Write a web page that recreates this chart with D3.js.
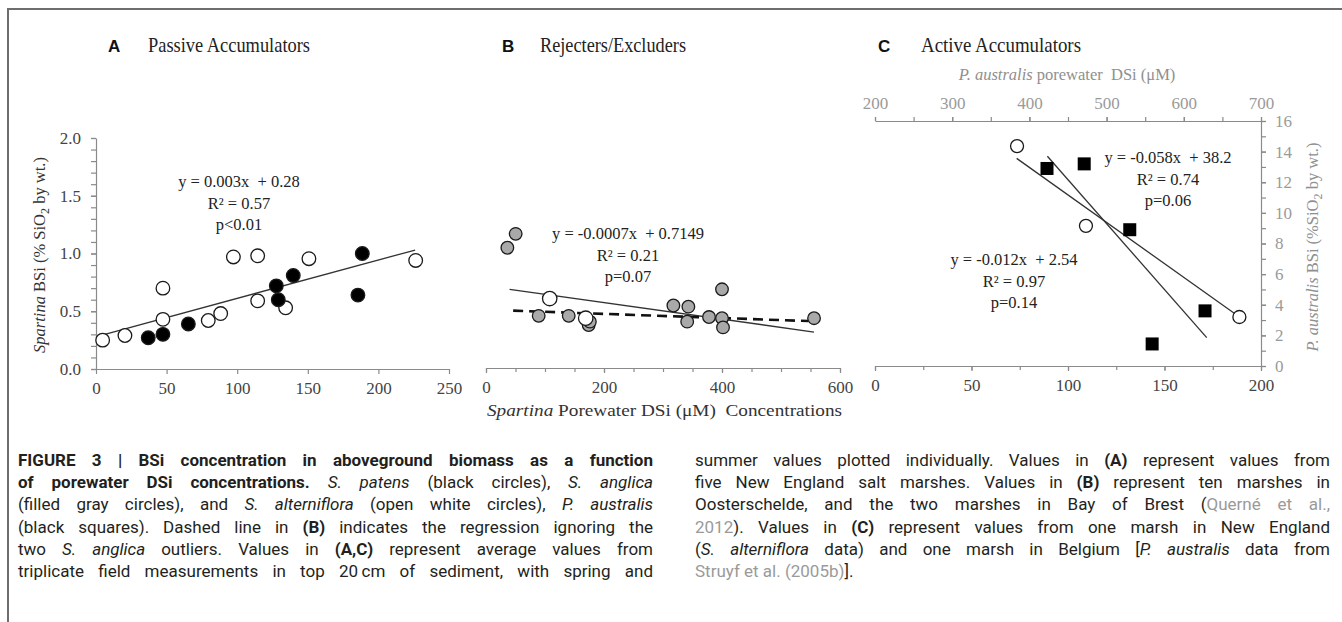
<!DOCTYPE html>
<html>
<head>
<meta charset="utf-8">
<script src="https://cdn.jsdelivr.net/npm/d3@7"></script>
<style>
  body { margin: 0; background: #fff; width: 1342px; height: 622px; overflow: hidden; position: relative; }
  svg { position: absolute; left: 0; top: 0; }
  .col { position: absolute; top: 449px; width: 635px; font-family: Roboto, "Liberation Sans", sans-serif; font-size: 17px; color: #231f20; }
  .col div { height: 22.2px; line-height: 22.2px; text-align: justify; text-align-last: justify; }
  .col div.last { text-align-last: left; }
  .ref { color: #9a9a9a; }
</style>
</head>
<body>
<div class="col" id="capLeft" style="left:18px"></div>
<div class="col" id="capRight" style="left:695px"></div>
<script>
// ---- data ----
// Panel A: S. alterniflora (open) and S. patens (black)
const aOpen = [[4.7, 0.25], [20.5, 0.29], [47.4, 0.70], [47.4, 0.43], [79.5, 0.42], [88.3, 0.48],
  [97.3, 0.97], [114.5, 0.98], [114.5, 0.59], [134.3, 0.53], [150.8, 0.955], [226.4, 0.94]];
const aBlack = [[37, 0.27], [47.4, 0.30], [65.4, 0.39], [127.7, 0.72], [129.1, 0.60], [139.7, 0.81],
  [188.6, 1.00], [185.5, 0.64]];
const aFit = [[3, 0.29], [226, 1.03]];

// Panel B: S. anglica (gray) and S. alterniflora (open)
const bGray = [[36.2, 1.05], [50.3, 1.17], [89.3, 0.46], [140.2, 0.46], [174, 0.38], [176, 0.41],
  [317.6, 0.55], [343, 0.54], [341, 0.41], [378, 0.45], [400, 0.69], [400, 0.44], [401.7, 0.36], [556, 0.44]];
const bOpen = [[108, 0.61], [169, 0.44]];
const bFit = [[40, 0.69], [556, 0.32]];
const bFitDashed = [[46, 0.505], [546, 0.415]];

// Panel C: S. alterniflora (open, bottom axis) and P. australis (squares, top/right axes)
const cOpen = [[73.6, 1.78], [109.3, 1.08], [188.8, 0.28]];
const cOpenFit = [[73.4, 1.672], [187.4, 0.297]];
const cSquares = [[422.8, 12.9], [471, 13.2], [530, 8.9], [559, 1.44], [627.5, 3.6]];
const cSquareFit = [[423.3, 13.7], [629.7, 1.85]];

const aTicksY = [0, 0.5, 1, 1.5, 2];
const aTicksX = [0, 50, 100, 150, 200, 250];
const bTicksX = [0, 200, 400, 600];
const cTicksBottom = [0, 50, 100, 150, 200];
const cTicksTop = [200, 300, 400, 500, 600, 700];
const cTicksRight = [0, 2, 4, 6, 8, 10, 12, 14, 16];

const aEq = ['y = 0.003x  + 0.28', 'R² = 0.57', 'p<0.01'];
const bEq = ['y = -0.0007x  + 0.7149', 'R² = 0.21', 'p=0.07'];
const cEqSquares = ['y = -0.058x  + 38.2', 'R² = 0.74', 'p=0.06'];
const cEqOpen = ['y = -0.012x  + 2.54', 'R² = 0.97', 'p=0.14'];

const SERIF = '"Liberation Serif", "Times New Roman", serif';
const AXIS = '#8a8a8a';

const svg = d3.select('body').append('svg').attr('width', 1342).attr('height', 622);

// frame
svg.append('path').attr('d', 'M8,622V9H1342').attr('fill', 'none').attr('stroke', '#6e6e6e').attr('stroke-width', 2);

// ---- scales ----
const xA = d3.scaleLinear().domain([0, 250]).range([96, 449]);
const yA = d3.scaleLinear().domain([0, 2]).range([369, 138]);
const xB = d3.scaleLinear().domain([0, 600]).range([486, 840]);
const xC = d3.scaleLinear().domain([0, 200]).range([875, 1261]);
const xCTop = d3.scaleLinear().domain([200, 700]).range([875, 1261]);
const yCRight = d3.scaleLinear().domain([0, 16]).range([366, 121]);
const yCHidden = d3.scaleLinear().domain([-0.15, 2.0]).range([366, 121]);

const styleAxis = (g, labelColor) => {
  g.attr('font-family', null).attr('font-size', null);
  g.selectAll('path, line').attr('stroke', AXIS).attr('stroke-width', 1.2);
  g.selectAll('text')
    .style('font-family', SERIF)
    .style('font-size', '17px')
    .style('fill', labelColor);
};

const drawAxis = (axis, transform, labelColor, minor) => {
  if (minor) {
    const m = svg.append('g').attr('transform', transform).call(minor);
    styleAxis(m, labelColor);
    m.select('.domain').remove();
  }
  const g = svg.append('g').attr('transform', transform).call(axis);
  styleAxis(g, labelColor);
  return g;
};

// Panel A axes
drawAxis(d3.axisLeft(yA).tickValues(aTicksY).tickFormat(d3.format('.1f')).tickSize(5).tickSizeOuter(0).tickPadding(10),
  'translate(96,0)', '#444',
  d3.axisLeft(yA).tickValues(d3.range(0, 2.001, 0.1)).tickFormat('').tickSize(5));
drawAxis(d3.axisBottom(xA).tickValues(aTicksX).tickSize(5).tickSizeOuter(0).tickPadding(8),
  'translate(0,369)', '#444');

// Panel B axis
drawAxis(d3.axisBottom(xB).tickValues(bTicksX).tickSize(5).tickSizeOuter(0).tickPadding(8),
  'translate(0,368)', '#444',
  d3.axisBottom(xB).tickValues(d3.range(0, 601, 50)).tickFormat('').tickSize(4));

// Panel C axes
drawAxis(d3.axisBottom(xC).tickValues(cTicksBottom).tickSize(5).tickSizeOuter(0).tickPadding(8),
  'translate(0,366)', '#444',
  d3.axisBottom(xC).tickValues(d3.range(0, 201, 25)).tickFormat('').tickSize(4));
drawAxis(d3.axisTop(xCTop).tickValues(cTicksTop).tickSize(4).tickSizeOuter(0).tickPadding(8),
  'translate(0,121)', '#9a9a9a',
  d3.axisTop(xCTop).tickValues(d3.range(200, 701, 50)).tickFormat('').tickSize(4));
drawAxis(d3.axisRight(yCRight).tickValues(cTicksRight).tickSize(5).tickSizeOuter(0).tickPadding(9),
  'translate(1261,0)', '#9a9a9a',
  d3.axisRight(yCRight).tickValues(d3.range(0, 17, 1)).tickFormat('').tickSize(5));

// ---- regression lines ----
const drawLine = (pts, x, y, dashed) => svg.append('path')
  .datum(pts)
  .attr('d', d3.line().x(d => x(d[0])).y(d => y(d[1])))
  .attr('fill', 'none')
  .attr('stroke', dashed ? '#111' : '#333')
  .attr('stroke-width', dashed ? 2.6 : 1.3)
  .attr('stroke-dasharray', dashed ? '10,6' : null);

drawLine(aFit, xA, yA);
drawLine(bFit, xB, yA);
drawLine(bFitDashed, xB, yA, true);
drawLine(cOpenFit, xC, yCHidden);
drawLine(cSquareFit, xCTop, yCRight);

// ---- markers ----
const drawCircles = (pts, x, y, fill, r) => svg.append('g')
  .selectAll('circle')
  .data(pts)
  .join('circle')
  .attr('cx', d => x(d[0]))
  .attr('cy', d => y(d[1]))
  .attr('r', r)
  .attr('fill', fill)
  .attr('stroke', '#1a1a1a')
  .attr('stroke-width', 1.3);

drawCircles(aOpen, xA, yA, '#fff', 6.8);
drawCircles(aBlack, xA, yA, '#000', 6.8);
drawCircles(bGray, xB, yA, '#a9a9a9', 6.3);
drawCircles(bOpen, xB, yA, '#fff', 7.2);
drawCircles(cOpen, xC, yCHidden, '#fff', 6.5);

svg.append('g')
  .selectAll('rect')
  .data(cSquares)
  .join('rect')
  .attr('x', d => xCTop(d[0]) - 6.5)
  .attr('y', d => yCRight(d[1]) - 6.5)
  .attr('width', 13)
  .attr('height', 13)
  .attr('fill', '#000');

// ---- equation labels ----
const drawEq = (lines, cx, cy) => svg.append('g')
  .selectAll('text')
  .data(lines)
  .join('text')
  .attr('x', cx)
  .attr('y', (_d, i) => cy + i * 21.5)
  .attr('text-anchor', 'middle')
  .attr('font-family', SERIF)
  .attr('font-size', 16.5)
  .attr('fill', '#222')
  .style('white-space', 'pre')
  .text(d => d);

drawEq(aEq, 239, 187);
drawEq(bEq, 628, 239);
drawEq(cEqSquares, 1168, 163);
drawEq(cEqOpen, 1014, 265);

// ---- panel titles ----
const titles = [['A', 'Passive Accumulators', 108, 148, 162], ['B', 'Rejecters/Excluders', 502, 540, 146], ['C', 'Active Accumulators', 878, 921, 160]];
titles.forEach(([letter, name, lx, tx, w]) => {
  svg.append('text').attr('x', lx).attr('y', 52).attr('font-family', '"Liberation Sans", Arial, sans-serif')
    .attr('font-weight', 'bold').attr('font-size', 17).attr('fill', '#111').text(letter);
  svg.append('text').attr('x', tx).attr('y', 52).attr('font-family', SERIF).attr('font-size', 22)
    .attr('fill', '#222').attr('textLength', w).attr('lengthAdjust', 'spacingAndGlyphs').text(name);
});

// ---- axis titles ----
const xTitle = svg.append('text').attr('x', 487).attr('y', 416).attr('font-family', SERIF).attr('font-size', 17)
  .attr('fill', '#333').attr('textLength', 355).attr('lengthAdjust', 'spacingAndGlyphs').style('white-space', 'pre');
xTitle.append('tspan').attr('font-style', 'italic').text('Spartina');
xTitle.append('tspan').text(' Porewater DSi (μM)  Concentrations');

const yTitle = svg.append('text').attr('transform', 'translate(45,255) rotate(-90)').attr('text-anchor', 'middle')
  .attr('font-family', SERIF).attr('font-size', 16.5).attr('fill', '#333');
yTitle.append('tspan').attr('font-style', 'italic').text('Spartina');
yTitle.append('tspan').text(' BSi (% SiO');
yTitle.append('tspan').attr('dy', 4).attr('font-size', 12).text('2');
yTitle.append('tspan').attr('dy', -4).text(' by wt.)');

const topTitle = svg.append('text').attr('x', 1067).attr('y', 80).attr('text-anchor', 'middle')
  .attr('font-family', SERIF).attr('font-size', 16.5).attr('fill', '#8f8f8f').style('white-space', 'pre');
topTitle.append('tspan').attr('font-style', 'italic').text('P. australis');
topTitle.append('tspan').text(' porewater  DSi (μM)');

const rTitle = svg.append('text').attr('transform', 'translate(1318,247) rotate(-90)').attr('text-anchor', 'middle')
  .attr('font-family', SERIF).attr('font-size', 16.5).attr('fill', '#8f8f8f');
rTitle.append('tspan').attr('font-style', 'italic').text('P. australis');
rTitle.append('tspan').text(' BSi (%SiO');
rTitle.append('tspan').attr('dy', 4).attr('font-size', 12).text('2');
rTitle.append('tspan').attr('dy', -4).text(' by wt.)');

// ---- caption ----
const captionLeft = [
  '<b>FIGURE 3 | BSi concentration in aboveground biomass as a function</b>',
  '<b>of porewater DSi concentrations.</b> <i>S. patens</i> (black circles), <i>S. anglica</i>',
  '(filled gray circles), and <i>S. alterniflora</i> (open white circles), <i>P. australis</i>',
  '(black squares). Dashed line in <b>(B)</b> indicates the regression ignoring the',
  'two <i>S. anglica</i> outliers. Values in <b>(A,C)</b> represent average values from',
  'triplicate field measurements in top 20&#8201;cm of sediment, with spring and'
];
const captionRight = [
  'summer values plotted individually. Values in <b>(A)</b> represent values from',
  'five New England salt marshes. Values in <b>(B)</b> represent ten marshes in',
  'Oosterschelde, and the two marshes in Bay of Brest (<span class="ref">Querné et al.,</span>',
  '<span class="ref">2012</span>). Values in <b>(C)</b> represent values from one marsh in New England',
  '(<i>S. alterniflora</i> data) and one marsh in Belgium [<i>P. australis</i> data from',
  '<span class="ref">Struyf et al. (2005b)</span>].'
];
d3.select('#capLeft').selectAll('div').data(captionLeft).join('div').html(d => d);
d3.select('#capRight').selectAll('div').data(captionRight).join('div')
  .classed('last', (_d, i) => i === captionRight.length - 1).html(d => d);
</script>
</body>
</html>
